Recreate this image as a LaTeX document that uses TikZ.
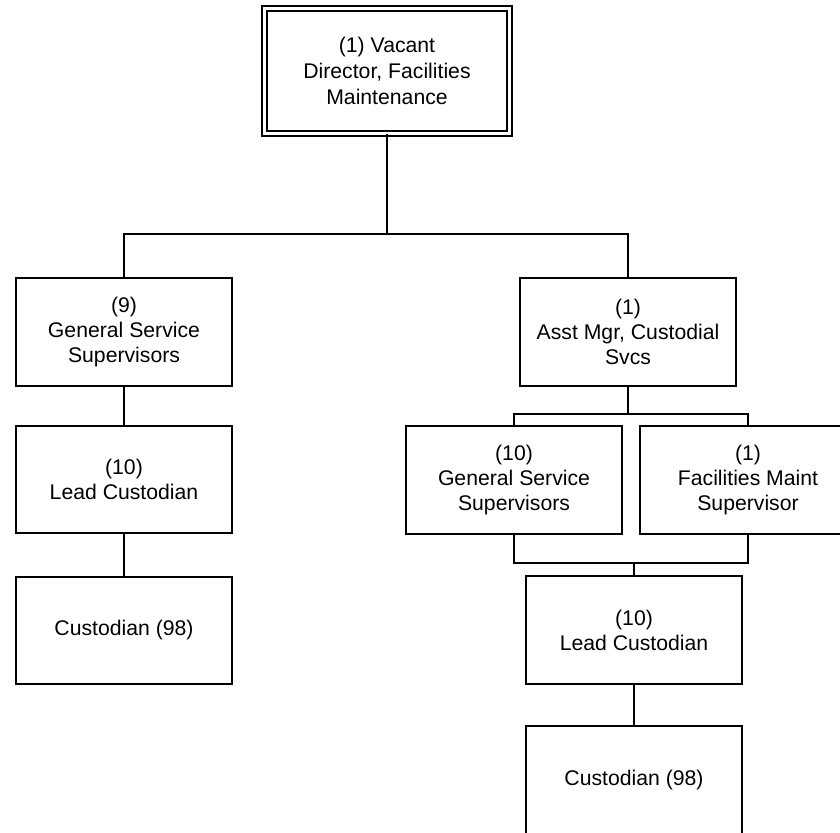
\documentclass[tikz,border=0pt]{standalone}
\usepackage{fontspec}
\setmainfont{Liberation Sans}
\begin{document}
\begin{tikzpicture}[x=1pt,y=-1pt,
  box/.style={draw, line width=1.4pt, align=center, font=\fontsize{21.2}{25}\selectfont,
    inner sep=0pt, minimum width=216pt, minimum height=108pt},
  topbox/.style={draw, line width=1.4pt, double, double distance=3.6pt, align=center,
    font=\fontsize{21.2}{26}\selectfont, inner sep=0pt, minimum width=245pt, minimum height=125pt},
  conn/.style={line width=1.4pt}]
\useasboundingbox (0,0) rectangle (840,832);
\clip (0,0) rectangle (840,832);
\node[topbox] (top) at (387,71) {(1) Vacant\\Director, Facilities\\Maintenance};
\node[box] (gss9) at (124,332) {(9)\\General Service\\Supervisors};
\node[box] (asst) at (628,332) {(1)\\Asst Mgr, Custodial\\Svcs};
\node[box, minimum height=107pt] (lead1) at (124,479.5) {(10)\\Lead Custodian};
\node[box, minimum height=107pt] (cust1) at (124,630.5) {Custodian (98)};
\node[box] (gss10) at (514,480) {(10)\\General Service\\Supervisors};
\node[box] (fms) at (748,480) {(1)\\Facilities Maint\\Supervisor};
\node[box] (lead2) at (634,630) {(10)\\Lead Custodian};
\node[box] (cust2) at (634,780) {Custodian (98)};
\coordinate (j1) at (387,234);
\coordinate (j2) at (628,414);
\coordinate (j3) at (634,563);
\draw[conn] (top.south) -- (j1);
\draw[conn] (gss9.north) -- (gss9.north |- j1) -- (asst.north |- j1) -- (asst.north);
\draw[conn] (gss9.south) -- (lead1.north);
\draw[conn] (lead1.south) -- (cust1.north);
\draw[conn] (asst.south) -- (j2);
\draw[conn] (gss10.north) -- (gss10.north |- j2) -- (fms.north |- j2) -- (fms.north);
\draw[conn] (gss10.south) -- (gss10.south |- j3) -- (fms.south |- j3) -- (fms.south);
\draw[conn] (j3) -- (lead2.north);
\draw[conn] (lead2.south) -- (cust2.north);
\end{tikzpicture}
\end{document}
